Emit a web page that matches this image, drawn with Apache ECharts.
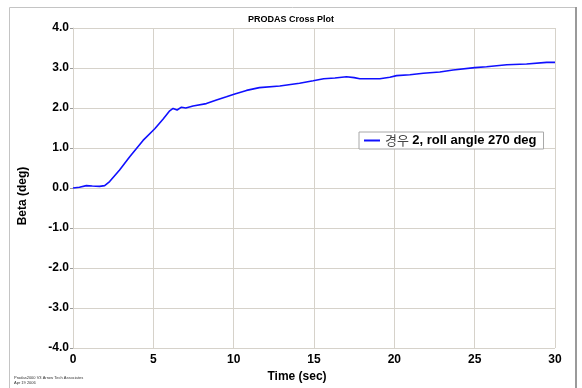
<!DOCTYPE html>
<html>
<head>
<meta charset="utf-8">
<script src="https://cdn.jsdelivr.net/npm/echarts@6/dist/echarts.min.js"></script>
<style>
  html, body { margin: 0; padding: 0; background: #fff; }
  #chart { width: 582px; height: 388px; }
</style>
</head>
<body>
<div id="chart"></div>
<script>
// time (sec) and beta (deg)
const times = [0, 0.4, 0.83, 1.2, 1.66, 1.97, 2.28, 2.9, 3.53, 4.36, 5.09, 5.6, 6.02, 6.23, 6.48, 6.75, 7.02, 7.47, 8.3, 8.93, 9.55, 10.07, 10.8, 11.6, 12.87, 14.1, 14.95, 15.6, 16.3, 17.02, 17.5, 17.85, 19.1, 19.72, 20.14, 20.97, 21.8, 22.83, 23.66, 25.0, 25.74, 27.0, 28.23, 29.48, 30.0]
const betas = [0, 0.02, 0.06, 0.05, 0.04, 0.06, 0.16, 0.45, 0.78, 1.19, 1.48, 1.72, 1.93, 1.99, 1.95, 2.02, 2.0, 2.05, 2.11, 2.2, 2.28, 2.35, 2.44, 2.51, 2.55, 2.62, 2.68, 2.73, 2.75, 2.78, 2.76, 2.73, 2.73, 2.77, 2.81, 2.83, 2.87, 2.9, 2.95, 3.01, 3.03, 3.08, 3.1, 3.14, 3.14]
const seriesName = '경우 2, roll angle 270 deg'
const titleText = 'PRODAS Cross Plot'
const xName = 'Time (sec)'
const yName = 'Beta (deg)'
const footerLines = ['Prodas2000 V3 Arrow Tech Associates', 'Apr 19 2006']

const chart = echarts.init(document.getElementById('chart'), null, { renderer: 'canvas' })
const font = 'Liberation Sans, Arial, sans-serif'
const gridColor = '#d6d2ca'

chart.setOption({
  backgroundColor: '#fff',
  animation: false,
  title: {
    text: titleText,
    left: 'center',
    top: 10,
    textStyle: { fontSize: 9, fontWeight: 'bold', color: '#000', fontFamily: font }
  },
  grid: { left: 73, top: 28, right: 27, bottom: 36, containLabel: false },
  legend: {
    left: 359,
    top: 132,
    padding: [2, 7, 2, 5],
    backgroundColor: '#fff',
    borderColor: '#a8a8a8',
    borderWidth: 1,
    borderRadius: 0,
    icon: 'rect',
    itemWidth: 16,
    itemHeight: 2,
    itemGap: 6,
    formatter: () => '{k|경우} {b|2, roll angle 270 deg}',
    textStyle: {
      rich: {
        k: { fontSize: 13, fontFamily: 'Noto Sans CJK KR', color: '#444' },
        b: { fontSize: 13, fontWeight: 'bold', fontFamily: font, color: '#000' }
      }
    }
  },
  xAxis: {
    type: 'value',
    min: 0, max: 30, interval: 5,
    name: xName,
    nameLocation: 'middle',
    nameGap: 23,
    nameTextStyle: { fontSize: 12, fontWeight: 'bold', color: '#000', fontFamily: font, padding: [0, 34, 0, 0] },
    axisLine: { show: true, lineStyle: { color: gridColor } },
    axisTick: { show: false },
    axisLabel: { fontSize: 12, fontWeight: 'bold', color: '#000', fontFamily: font, margin: 6 },
    splitLine: { show: true, lineStyle: { color: gridColor, width: 1 } }
  },
  yAxis: {
    type: 'value',
    min: -4, max: 4, interval: 1,
    name: yName,
    nameLocation: 'middle',
    nameGap: 44,
    nameRotate: 90,
    nameTextStyle: { fontSize: 12, fontWeight: 'bold', color: '#000', fontFamily: font, padding: [0, 16, 0, 0] },
    axisLine: { show: true, lineStyle: { color: gridColor } },
    axisTick: { show: true, length: 3, lineStyle: { color: '#999' } },
    axisLabel: {
      fontSize: 12, fontWeight: 'bold', color: '#000', fontFamily: font, margin: 4,
      formatter: v => v.toFixed(1)
    },
    splitLine: { show: true, lineStyle: { color: gridColor, width: 1 } }
  },
  series: [{
    name: seriesName,
    type: 'line',
    data: times.map((t, i) => [t, betas[i]]),
    showSymbol: false,
    lineStyle: { color: '#1010ff', width: 1.6 },
    itemStyle: { color: '#1010ff' }
  }],
  graphic: [
    { type: 'rect', shape: { x: 9.5, y: 7.5, width: 566, height: 390 }, style: { fill: null, stroke: '#c4c4c4', lineWidth: 1 }, silent: true },
    { type: 'line', shape: { x1: 576, y1: 7, x2: 576, y2: 388 }, style: { stroke: '#9a9a9a', lineWidth: 2 }, silent: true },
    { type: 'text', left: 14, top: 375, style: { text: footerLines.join('\n'), fontSize: 4, lineHeight: 5, fill: '#333', fontFamily: font }, silent: true }
  ]
})
</script>
</body>
</html>
